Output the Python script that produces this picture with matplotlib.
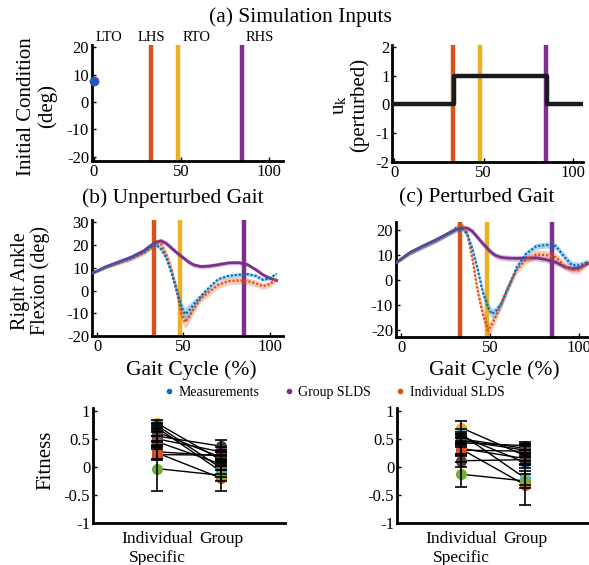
#!/usr/bin/env python3
"""SLDS simulation inputs, ankle flexion trajectories and fitness comparison."""
import matplotlib
matplotlib.use("Agg")
import matplotlib.pyplot as plt
from matplotlib.lines import Line2D

plt.rcParams["font.family"] = ["Liberation Serif", "DejaVu Serif"]
plt.rcParams["mathtext.fontset"] = "stix"
plt.rcParams["axes.unicode_minus"] = False

C_BLUE = "#0072BD"
C_RED = "#D95319"
C_GOLD = "#EDB120"
C_PURP = "#7E2F8E"

# gait events (% gait cycle)
event_names = ["LTO", "LHS", "RTO", "RHS"]
event_pos = [0, 33, 48, 85]
init_cond = 7.6

# perturbation input u_k
u_times = [0, 33.5, 85.5, 105]
u_vals = [0, 1, 0, 0]

# (b) unperturbed gait
xb = [-3, 5, 12, 20, 27, 31, 34, 37, 40, 43, 46, 49, 51, 53, 56, 60, 65, 70, 76, 82, 87, 92, 96, 100, 104]
b_group = [7.6, 10.5, 12.5, 14.8, 17.5, 19.8, 21.3, 21.9, 20.8, 18.8, 16.8, 15.0, 13.8, 12.6, 11.3,
           10.6, 10.8, 11.4, 12.2, 12.3, 11.5, 9.2, 7.0, 5.5, 4.5]
b_meas = [7.6, 10.3, 12.2, 14.4, 17.0, 19.0, 20.2, 18.3, 14.5, 8.0, 0.5, -7.5, -10.3, -9.0, -6.0,
          -2.5, 1.5, 5.0, 6.5, 7.0, 7.3, 6.5, 4.8, 5.5, 7.5]
b_indiv = [7.6, 10.2, 12.0, 14.0, 16.5, 18.8, 20.8, 20.5, 16.0, 9.5, 0.0, -10.5, -13.8, -12.0, -8.0,
           -3.5, -0.5, 2.5, 4.2, 4.5, 4.2, 3.2, 2.0, 2.8, 5.5]
b_group_sd = [0.6, 0.8, 0.9, 1.0, 1.0, 1.0, 1.1, 1.1, 1.1, 1.1, 1.1, 1.1, 1.1, 1.1, 1.0,
              1.0, 1.0, 1.0, 0.9, 0.9, 0.9, 0.8, 0.8, 0.8, 0.6]
b_meas_sd = [0.5, 0.6, 0.6, 0.6, 0.7, 0.8, 0.8, 1.0, 1.2, 1.5, 2.0, 2.5, 2.8, 3.0, 2.0,
             1.2, 0.8, 0.8, 0.8, 0.8, 0.8, 0.8, 0.8, 0.8, 0.6]
b_indiv_sd = [0.5, 0.7, 0.8, 0.9, 1.0, 1.0, 1.0, 1.2, 1.8, 2.5, 3.0, 3.2, 3.0, 2.5, 2.0,
              1.8, 1.6, 1.6, 1.6, 1.6, 1.6, 1.5, 1.4, 1.4, 1.0]

# (c) perturbed gait
xc = [-3, 5, 12, 20, 27, 31, 34, 37, 40, 43, 46, 49, 51, 53, 56, 60, 65, 70, 76, 82, 87, 92, 96, 100, 105]
c_group = [6.8, 11.0, 13.5, 16.2, 18.8, 20.2, 20.8, 20.8, 19.5, 17.0, 14.5, 12.2, 10.8, 9.8, 9.0,
           8.7, 8.6, 8.7, 8.8, 8.0, 7.0, 5.2, 4.4, 4.8, 6.5]
c_meas = [6.8, 10.8, 13.3, 16.0, 18.8, 20.3, 21.0, 18.5, 12.5, 4.2, -5.3, -11.2, -13.7, -12.8, -10.0,
          -3.5, 5.1, 10.3, 13.5, 14.0, 13.5, 9.0, 5.9, 5.8, 7.2]
c_indiv = [6.8, 10.7, 13.2, 16.0, 18.9, 21.0, 22.0, 19.0, 8.5, -4.5, -14.0, -20.4, -18.0, -15.0, -10.0,
           -3.0, 4.0, 8.0, 10.2, 9.9, 9.0, 5.5, 4.0, 3.8, 7.2]
c_group_sd = [0.6, 0.8, 0.9, 1.0, 1.0, 1.0, 1.1, 1.1, 1.2, 1.2, 1.2, 1.2, 1.2, 1.2, 1.2,
              1.2, 1.2, 1.2, 1.2, 1.2, 1.2, 1.1, 1.0, 1.0, 0.8]
c_meas_sd = [0.6, 0.8, 0.9, 1.0, 1.0, 1.0, 1.0, 1.2, 1.5, 1.8, 2.0, 2.0, 2.0, 2.0, 1.8,
             1.5, 1.2, 1.2, 1.2, 1.2, 1.3, 1.5, 1.5, 1.3, 1.0]
c_indiv_sd = [0.6, 0.8, 0.9, 1.0, 1.0, 1.1, 1.2, 1.5, 2.0, 2.5, 2.8, 2.8, 2.5, 2.2, 2.0,
              1.8, 1.6, 1.6, 1.8, 1.8, 1.8, 1.6, 1.5, 1.4, 1.0]

# fitness per subject
subj_colors = ["#EDB120", "#4DBEEE", "#0072BD", "#3F3F3F", "#7E2F8E", "#8C5A45",
               "#4E443B", "#A2142F", "#D95319", "#77AC30", "#5A4A3F"]
fit_cats = ["Individual\nSpecific", "Group"]
fitL_ind = [0.78, 0.70, 0.74, 0.55, 0.50, 0.45, 0.27, 0.22, 0.25, -0.03, 0.62]
fitL_grp = [0.12, -0.08, -0.02, 0.37, 0.27, 0.05, 0.20, 0.21, -0.20, -0.15, 0.17]
fitL_ind_err = [0.05, 0.06, 0.05, 0.08, 0.06, 0.10, 0.12, 0.10, 0.10, 0.40, 0.06]
fitL_grp_err = [0.10, 0.10, 0.10, 0.11, 0.08, 0.10, 0.10, 0.08, 0.23, 0.10, 0.10]
fitR_ind = [0.70, 0.59, 0.55, 0.47, 0.43, 0.33, 0.11, 0.30, 0.32, -0.13, 0.50]
fitR_grp = [0.20, -0.20, 0.08, 0.30, 0.38, 0.15, 0.13, 0.28, -0.32, -0.25, 0.33]
fitR_ind_err = [0.12, 0.08, 0.08, 0.08, 0.08, 0.10, 0.12, 0.10, 0.10, 0.22, 0.08]
fitR_grp_err = [0.10, 0.12, 0.10, 0.10, 0.07, 0.10, 0.10, 0.10, 0.35, 0.12, 0.08]

TICK_FS = 12
LAB_FS = 15
TITLE_FS = 15.5


def style(ax):
    for s in ["top", "right"]:
        ax.spines[s].set_visible(False)
    for s in ["left", "bottom"]:
        ax.spines[s].set_linewidth(2)
    ax.tick_params(direction="in", length=3, width=1, labelsize=TICK_FS, pad=2)


def events(ax):
    for pos, col in zip(event_pos[1:], [C_RED, C_GOLD, C_PURP]):
        ax.axvline(pos, color=col, lw=3.2, zorder=1)


def traj(ax, x, series):
    for y, sd, col, ls, lw in series:
        lo = [a - b for a, b in zip(y, sd)]
        hi = [a + b for a, b in zip(y, sd)]
        ax.fill_between(x, lo, hi, color=col, alpha=0.3, lw=0, zorder=2)
        ax.plot(x, y, color=col, lw=lw, ls=ls, zorder=3)


def fitness(ax, ind, grp, ind_err, grp_err):
    for i in range(len(ind)):
        ax.plot([1, 2], [ind[i], grp[i]], color="black", lw=1, zorder=1)
    for i in range(len(ind)):
        ax.plot([1, 2], [ind[i], grp[i]], "o", color=subj_colors[i], ms=7, zorder=2)
    for i in range(len(ind)):
        ax.errorbar([1, 2], [ind[i], grp[i]], yerr=[ind_err[i], grp_err[i]], fmt="none",
                    ecolor="black", elinewidth=1.2, capsize=4, capthick=1.2, zorder=3)
    ax.set_xlim(0, 3)
    ax.set_ylim(-1, 1.05)
    ax.set_xticks([1, 2])
    ax.set_xticklabels(fit_cats)
    ax.set_yticks([-1, -0.5, 0, 0.5, 1])
    ax.set_yticklabels(["-1", "-0.5", "0", "0.5", "1"])
    style(ax)
    ax.tick_params(axis="x", length=0, pad=6, labelsize=12.5)


fig = plt.figure(figsize=(5.89, 5.65), dpi=100)

# (a) left: initial condition
ax = fig.add_axes([0.156, 0.715, 0.324, 0.205])
events(ax)
ax.plot([0], [init_cond], "o", color="#2A52BE", ms=6, zorder=4, clip_on=False)
ax.set_xlim(-1, 108)
ax.set_ylim(-21.5, 20.7)
ax.set_xticks([0, 50, 100])
ax.set_yticks([-20, -10, 0, 10, 20])
style(ax)
for name, xt in zip(event_names, [8.5, 33, 59, 95]):
    ax.text(xt, 21.0, name, ha="center", va="bottom", fontsize=10.5)

# (a) right: input
ax = fig.add_axes([0.666, 0.713, 0.324, 0.207])
events(ax)
ax.step(u_times, u_vals, where="post", color="#1a1a1a", lw=3.2, zorder=3)
ax.set_xlim(-1, 105.6)
ax.set_ylim(-2.02, 2.07)
ax.set_xticks([0, 50, 100])
ax.set_yticks([-2, -1, 0, 1, 2])
style(ax)

dot = (0, (1, 0.8))
# (b) unperturbed
ax = fig.add_axes([0.156, 0.405, 0.324, 0.205])
events(ax)
traj(ax, xb, [(b_group, b_group_sd, C_PURP, "-", 2.0),
              (b_indiv, b_indiv_sd, C_RED, dot, 1.6),
              (b_meas, b_meas_sd, C_BLUE, dot, 1.6)])
ax.set_xlim(-3, 107.5)
ax.set_ylim(-20, 30.9)
ax.set_xticks([0, 50, 100])
ax.set_yticks([-20, -10, 0, 10, 20, 30])
style(ax)

# (c) perturbed
ax = fig.add_axes([0.672, 0.4035, 0.328, 0.2035])
events(ax)
traj(ax, xc, [(c_group, c_group_sd, C_PURP, "-", 2.0),
              (c_indiv, c_indiv_sd, C_RED, dot, 1.6),
              (c_meas, c_meas_sd, C_BLUE, dot, 1.6)])
ax.set_xlim(-3, 105.6)
ax.set_ylim(-23, 23.2)
ax.set_xticks([0, 50, 100])
ax.set_yticks([-20, -10, 0, 10, 20])
style(ax)

# fitness panels
ax = fig.add_axes([0.158, 0.0743, 0.326, 0.2035])
fitness(ax, fitL_ind, fitL_grp, fitL_ind_err, fitL_grp_err)
ax = fig.add_axes([0.674, 0.0743, 0.326, 0.2035])
fitness(ax, fitR_ind, fitR_grp, fitR_ind_err, fitR_grp_err)

# titles and labels
fig.text(0.51, 0.97, "(a) Simulation Inputs", ha="center", va="center", fontsize=TITLE_FS)
fig.text(0.294, 0.649, "(b) Unperturbed Gait", ha="center", va="center", fontsize=TITLE_FS)
fig.text(0.81, 0.649, "(c) Perturbed Gait", ha="center", va="center", fontsize=TITLE_FS)
fig.text(0.324, 0.345, "Gait Cycle (%)", ha="center", va="center", fontsize=TITLE_FS)
fig.text(0.839, 0.345, "Gait Cycle (%)", ha="center", va="center", fontsize=TITLE_FS)
fig.text(0.063, 0.812, "Initial Condition\n(deg)", rotation=90, ha="center", va="center",
         fontsize=LAB_FS, multialignment="center", linespacing=1.05)
fig.text(0.593, 0.814, "u$_{\\rm k}$\n(perturbed)", rotation=90, ha="center", va="center",
         fontsize=LAB_FS, multialignment="center", linespacing=1.0)
fig.text(0.052, 0.503, "Right Ankle\nFlexion (deg)", rotation=90, ha="center", va="center",
         fontsize=14.5, multialignment="center", linespacing=1.05)
fig.text(0.078, 0.186, "Fitness", rotation=90, ha="center", va="center", fontsize=LAB_FS)

handles = [Line2D([], [], ls="none", marker="o", ms=3, color=c) for c in (C_BLUE, C_PURP, C_RED)]
fig.legend(handles, ["Measurements", "Group SLDS", "Individual SLDS"], loc="center",
           bbox_to_anchor=(0.566, 0.306), ncol=3, frameon=False, fontsize=10,
           handletextpad=0.2, columnspacing=1.6, handlelength=1.0)

fig.savefig("out.png", dpi=100)
